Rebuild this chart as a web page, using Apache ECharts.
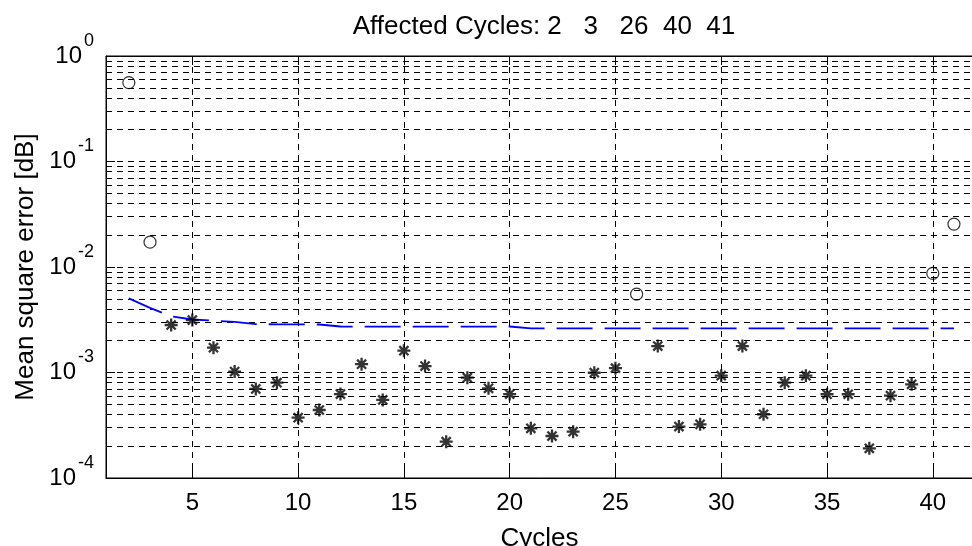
<!DOCTYPE html>
<html>
<head>
<meta charset="utf-8">
<script src="https://cdn.jsdelivr.net/npm/echarts@6/dist/echarts.min.js"></script>
<style>
html, body { margin: 0; padding: 0; background: #fff; }
#chart { width: 972px; height: 546px; }
</style>
</head>
<body>
<div id="chart"></div>
<script>
// affected cycles (open circles)
var affectedCycles = [2, 3, 26, 40, 41];
var affectedMse = [0.56, 0.0172, 0.00553, 0.00869, 0.0255];

// normal cycles (asterisks)
var normalCycles = [4, 5, 6, 7, 8, 9, 10, 11, 12, 13, 14, 15, 16, 17, 18, 19, 20, 21, 22, 23, 24, 25,
    27, 28, 29, 30, 31, 32, 33, 34, 35, 36, 37, 38, 39];
var normalMse = [0.00282, 0.00314, 0.00172, 0.00102, 0.000698, 0.0008, 0.000373, 0.000441, 0.000625, 0.0012, 0.00055,
    0.00161, 0.00115, 0.000221, 0.000893, 0.000708, 0.000625, 0.000296, 0.00025, 0.000275, 0.000995, 0.0011,
    0.00178, 0.000307, 0.000323, 0.000933, 0.00178, 0.000402, 0.0008, 0.000933, 0.000622, 0.000622, 0.000191,
    0.000603, 0.000773];

// threshold (blue dashed)
var thresholdCycles = [2, 3, 4, 5, 6, 7, 8, 9, 10, 11, 12, 13, 14, 15, 16, 17, 18, 19, 20, 21,
    22, 23, 24, 25, 26, 27, 28, 29, 30, 31, 32, 33, 34, 35, 36, 37, 38, 39, 40, 41];
var thresholdMse = [0.00504, 0.0041, 0.0034, 0.00318, 0.0031, 0.00302, 0.00288, 0.00286, 0.00286, 0.00285,
    0.00273, 0.00272, 0.00272, 0.00272, 0.00272, 0.00272, 0.00272, 0.00272, 0.00273, 0.00262,
    0.00262, 0.00262, 0.00262, 0.00262, 0.00262, 0.00262, 0.00262, 0.00262, 0.00262, 0.00262,
    0.00262, 0.00262, 0.00262, 0.00262, 0.00262, 0.00262, 0.00262, 0.00262, 0.00262, 0.00262];

var xTicks = [5, 10, 15, 20, 25, 30, 35, 40];
var yTicks = [0.0001, 0.001, 0.01, 0.1, 1];
var titleText = 'Affected Cycles: 2   3   26  40  41';

function pairs(xs, ys) {
    var out = [];
    for (var i = 0; i < xs.length; i++) {
        out.push([xs[i], ys[i]]);
    }
    return out;
}

// minor grid lines at 2..9 x each decade
var gridLines = [];
for (var d = 0; d < yTicks.length - 1; d++) {
    for (var k = 2; k <= 9; k++) {
        gridLines.push({ yAxis: k * yTicks[d] });
    }
}

var font = 'Liberation Sans, Arial, sans-serif';
var dash = [6, 5];
var asterisk = 'path://M6,0L6,12M0,6L12,6M1.8,1.8L10.2,10.2M1.8,10.2L10.2,1.8';

var chart = echarts.init(document.getElementById('chart'));
chart.setOption({
    animation: false,
    backgroundColor: '#fff',
    title: {
        text: titleText,
        left: 539,
        top: 9,
        textAlign: 'center',
        textStyle: { fontFamily: font, fontSize: 26, fontWeight: 'normal', color: '#000' }
    },
    grid: {
        left: 106,
        top: 56,
        width: 867,
        height: 422,
        outerBoundsMode: 'none',
        containLabel: false,
        show: true,
        borderColor: '#000',
        borderWidth: 1
    },
    xAxis: [{
        type: 'value',
        min: 0.92,
        max: 41.9,
        name: 'Cycles',
        nameLocation: 'middle',
        nameGap: 48,
        nameTextStyle: { fontFamily: font, fontSize: 26, color: '#000' },
        axisLine: { show: true, lineStyle: { color: '#000', width: 1 } },
        axisTick: { show: true, inside: true, length: 9, customValues: xTicks, lineStyle: { color: '#000' } },
        axisLabel: { customValues: xTicks, margin: 13, fontFamily: font, fontSize: 24, color: '#000' },
        splitLine: { show: true, lineStyle: { color: '#000', type: dash, width: 1 } }
    }, {
        type: 'value',
        position: 'top',
        min: 0.92,
        max: 41.9,
        axisLine: { show: true, lineStyle: { color: '#000', width: 1 } },
        axisTick: { show: true, inside: true, length: 9, customValues: xTicks, lineStyle: { color: '#000' } },
        axisLabel: { show: false },
        splitLine: { show: false }
    }],
    yAxis: {
        type: 'log',
        logBase: 10,
        min: 0.0001,
        max: 1,
        name: 'Mean square error [dB]',
        nameLocation: 'middle',
        nameGap: 61,
        nameTextStyle: { fontFamily: font, fontSize: 26, color: '#000' },
        axisLine: { show: true, lineStyle: { color: '#000', width: 1 } },
        axisTick: { show: true, inside: true, length: 9, customValues: yTicks, lineStyle: { color: '#000' } },
        axisLabel: {
            customValues: yTicks,
            margin: 12,
            padding: [0, 0, 12, 0],
            formatter: function (v) {
                var e = Math.round(Math.log(v) / Math.LN10);
                return '{a|10}{b|' + e + '}';
            },
            rich: {
                a: { fontFamily: font, fontSize: 24, color: '#000', lineHeight: 36, verticalAlign: 'bottom', padding: [0, 2, 0, 0] },
                b: { fontFamily: font, fontSize: 18, color: '#000', lineHeight: 36, verticalAlign: 'top' }
            }
        },
        splitLine: { show: true, lineStyle: { color: '#000', type: dash, width: 1 } }
    },
    series: [{
        name: 'threshold',
        type: 'line',
        data: pairs(thresholdCycles, thresholdMse),
        showSymbol: false,
        symbol: 'none',
        lineStyle: { color: '#0000ff', width: 1.8, type: [36, 12] },
        z: 3
    }, {
        name: 'normal',
        type: 'scatter',
        data: pairs(normalCycles, normalMse),
        symbol: asterisk,
        symbolSize: 13,
        itemStyle: { color: 'rgba(0,0,0,0)', borderColor: '#000', borderWidth: 2.3 },
        z: 4,
        markLine: {
            silent: true,
            z: 1,
            precision: 10,
            symbol: ['none', 'none'],
            label: { show: false },
            lineStyle: { color: '#000', type: dash, width: 1 },
            emphasis: { disabled: true },
            data: gridLines
        }
    }, {
        name: 'affected',
        type: 'scatter',
        data: pairs(affectedCycles, affectedMse),
        symbol: 'circle',
        symbolSize: 12,
        itemStyle: { color: 'rgba(0,0,0,0)', borderColor: '#000', borderWidth: 1.2 },
        z: 4
    }]
});
</script>
</body>
</html>
